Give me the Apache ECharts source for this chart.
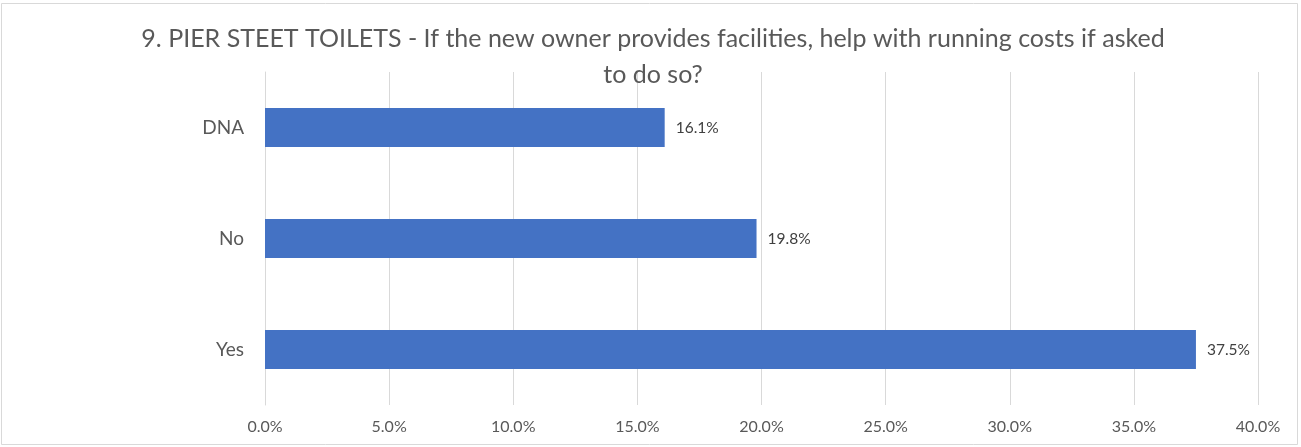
<!DOCTYPE html>
<html><head><meta charset="utf-8">
<script src="https://cdn.jsdelivr.net/npm/echarts@6/dist/echarts.min.js"></script>
<style>html,body{margin:0;padding:0;background:#fff}#c{width:1301px;height:447px}</style>
</head><body><div id="c"></div>
<script>
const categories = ['DNA', 'No', 'Yes'];
const values = [16.1, 19.8, 37.5];
const axisMin = 0, axisMax = 40, axisStep = 5;
const titleText = '9. PIER STEET TOILETS - If the new owner provides facilities, help with running costs if asked\nto do so?';

const chart = echarts.init(document.getElementById('c'), null, {renderer: 'canvas'});
const font = 'Lato, Open Sans, sans-serif';
chart.setOption({
  animation: false,
  backgroundColor: '#fff',
  title: {
    text: titleText, left: 648, top: 16, textAlign: 'center',
    textStyle: {fontFamily: font, fontSize: 25, fontWeight: 'normal', color: '#595959', lineHeight: 36}
  },
  graphic: [{type: 'rect', shape: {x: 1.5, y: 3.5, width: 1296, height: 441}, style: {fill: 'none', stroke: '#d9d9d9', lineWidth: 1}, silent: true}],
  grid: {left: 265, right: 43, top: 72, bottom: 42, containLabel: false},
  xAxis: {
    type: 'value', min: axisMin, max: axisMax, interval: axisStep,
    axisLine: {show: false}, axisTick: {show: false},
    splitLine: {lineStyle: {color: '#d9d9d9', width: 1}},
    axisLabel: {formatter: v => v.toFixed(1) + '%', fontFamily: font, fontSize: 16, color: '#595959', margin: 14}
  },
  yAxis: {
    type: 'category', data: categories, inverse: true,
    axisLine: {show: true, lineStyle: {color: '#d9d9d9'}}, axisTick: {show: false},
    axisLabel: {fontFamily: font, fontSize: 19, color: '#595959', margin: 21}
  },
  series: [{
    type: 'bar', data: values, barCategoryGap: '65%',
    itemStyle: {color: '#4472C4'},
    label: {show: true, position: 'right', distance: 11, formatter: p => p.value.toFixed(1) + '%', fontFamily: font, fontSize: 15.5, color: '#404040'}
  }]
});
</script></body></html>
